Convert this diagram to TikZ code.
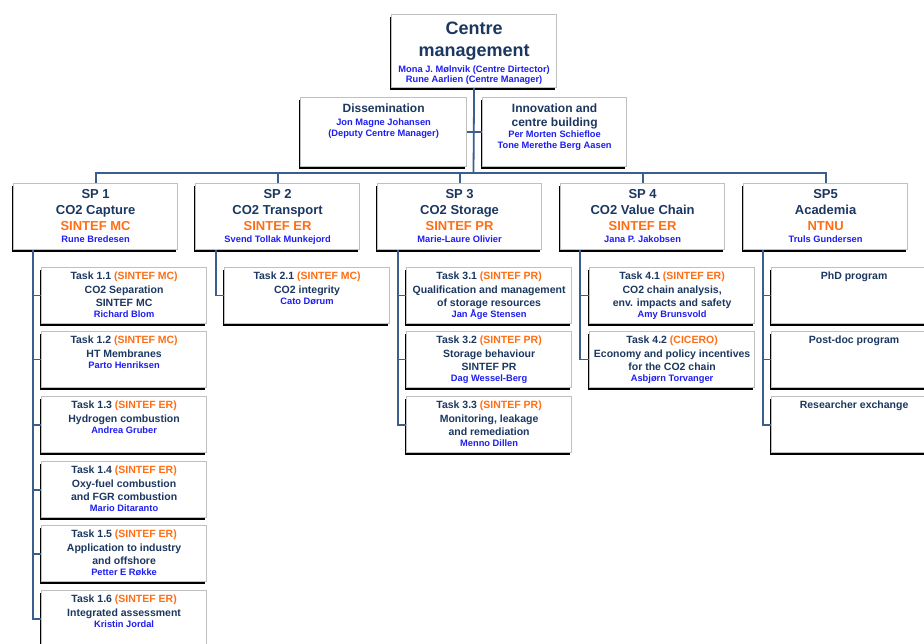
\documentclass[tikz,border=0pt]{standalone}
\usepackage{fontspec}
\setmainfont{Liberation Sans}
\usetikzlibrary{shadows}
\definecolor{navy}{RGB}{28,56,96}
\definecolor{linkblue}{RGB}{58,95,140}
\definecolor{boxgray}{RGB}{192,192,192}
\definecolor{orgorange}{RGB}{255,110,20}
\definecolor{nameblue}{RGB}{30,30,240}
\newcommand{\org}[1]{\textcolor{orgorange}{#1}}
\newcommand{\who}[1]{{\fontsize{9.3}{11}\selectfont\textcolor{nameblue}{#1}}}
\begin{document}
\begin{tikzpicture}[x=1pt,y=-1pt,
    box/.style={draw=boxgray,line width=1.2pt,fill=white,text=navy,
      general shadow={fill=black,shadow xshift=-2pt,shadow yshift=-2pt},
      anchor=north west,inner xsep=2pt,inner ysep=0pt,align=flush center},
    head/.style={box,text width=161pt,text height=20pt,text depth=53pt,
      font=\bfseries\fontsize{18}{22}\selectfont},
    staff/.style={box,text height=15pt,text depth=54pt,
      font=\bfseries\fontsize{12}{14}\selectfont},
    spbox/.style={box,text width=160pt,text height=15pt,text depth=51pt,
      font=\bfseries\fontsize{13}{15.5}\selectfont},
    task/.style={box,text width=161pt,text height=12pt,text depth=44pt,
      font=\bfseries\fontsize{10.5}{13.5}\selectfont},
    link/.style={draw=linkblue,line width=1.8pt}]
  \useasboundingbox (0,0) rectangle (924,644);
  \clip (0,0) rectangle (924,644);

  % Centre management
  \node[head] (cm) at (391,14) {Centre\\management\\[-6pt]\who{Mona J. Mølnvik (Centre Dirtector)}\\[-12pt]\who{Rune Aarlien (Centre Manager)}};
  \node[staff,text width=162pt] (dis) at (300,97) {Dissemination\\[-1pt]\who{Jon Magne Johansen}\\[-3pt]\who{(Deputy Centre Manager)}};
  \node[staff,text width=140pt] (inn) at (482,97) {Innovation and\\centre building\\[-3pt]\who{Per Morten Schiefloe}\\[-3pt]\who{Tone Merethe Berg Aasen}};

  % Sub-projects
  \node[spbox] (sp1) at (13,183) {SP 1\\CO2 Capture\\[1pt]\org{SINTEF MC}\\[-3.5pt]\who{Rune Bredesen}};
  \node[spbox] (sp2) at (195,183) {SP 2\\CO2 Transport\\[1pt]\org{SINTEF ER}\\[-3.5pt]\who{Svend Tollak Munkejord}};
  \node[spbox] (sp3) at (377,183) {SP 3\\CO2 Storage\\[1pt]\org{SINTEF PR}\\[-3.5pt]\who{Marie-Laure Olivier}};
  \node[spbox] (sp4) at (560,183) {SP 4\\CO2 Value Chain\\[1pt]\org{SINTEF ER}\\[-3.5pt]\who{Jana P. Jakobsen}};
  \node[spbox] (sp5) at (743,183) {SP5\\Academia\\[1pt]\org{NTNU}\\[-3.5pt]\who{Truls Gundersen}};

  % Tasks SP 1
  \node[task] (t11) at (41,267) {Task 1.1 \org{(SINTEF MC)}\\CO2 Separation\\SINTEF MC\\[-2.5pt]\who{Richard Blom}};
  \node[task] (t12) at (41,331) {Task 1.2 \org{(SINTEF MC)}\\HT Membranes\\[-2.5pt]\who{Parto Henriksen}};
  \node[task] (t13) at (41,396) {Task 1.3 \org{(SINTEF ER)}\\Hydrogen combustion\\[-2.5pt]\who{Andrea Gruber}};
  \node[task] (t14) at (41,461) {Task 1.4 \org{(SINTEF ER)}\\Oxy-fuel combustion\\and FGR combustion\\[-2.5pt]\who{Mario Ditaranto}};
  \node[task] (t15) at (41,525) {Task 1.5 \org{(SINTEF ER)}\\Application to industry\\and offshore\\[-2.5pt]\who{Petter E Røkke}};
  \node[task] (t16) at (41,590) {Task 1.6 \org{(SINTEF ER)}\\Integrated assessment\\[-2.5pt]\who{Kristin Jordal}};

  % Tasks SP 2 and SP 3
  \node[task] (t21) at (224,267) {Task 2.1 \org{(SINTEF MC)}\\CO2 integrity\\[-2.5pt]\who{Cato Dørum}};
  \node[task] (t31) at (406,267) {Task 3.1 \org{(SINTEF PR)}\\Qualification and management\\of storage resources\\[-2.5pt]\who{Jan Åge Stensen}};
  \node[task] (t32) at (406,331) {Task 3.2 \org{(SINTEF PR)}\\Storage behaviour\\SINTEF PR\\[-2.5pt]\who{Dag Wessel-Berg}};
  \node[task] (t33) at (406,396) {Task 3.3 \org{(SINTEF PR)}\\Monitoring, leakage\\and remediation\\[-2.5pt]\who{Menno Dillen}};

  % Tasks SP 4 and SP 5
  \node[task] (t41) at (589,267) {Task 4.1 \org{(SINTEF ER)}\\CO2 chain analysis,\\env. impacts and safety\\[-2.5pt]\who{Amy Brunsvold}};
  \node[task] (t42) at (589,331) {Task 4.2 \org{(CICERO)}\\Economy and policy incentives\\for the CO2 chain\\[-2.5pt]\who{Asbjørn Torvanger}};
  \node[task] (t51) at (771,267) {PhD program};
  \node[task] (t52) at (771,331) {Post-doc program};
  \node[task] (t53) at (771,396) {Researcher exchange};

  % Connectors
  \coordinate (bar) at (473.5,173);
  \draw[link] (cm.south) -- (bar);
  \draw[link] (dis.east) -- (inn.west);
  \foreach \s in {sp1,sp2,sp3,sp4,sp5}
    \draw[link] (bar) -| (\s.north);
  \foreach \k in {t11,t12,t13,t14,t15,t16}
    \draw[link] ([xshift=20pt]sp1.south west) |- (\k.west);
  \draw[link] ([xshift=21pt]sp2.south west) |- (t21.west);
  \foreach \k in {t31,t32,t33}
    \draw[link] ([xshift=21pt]sp3.south west) |- (\k.west);
  \foreach \k in {t41,t42}
    \draw[link] ([xshift=20pt]sp4.south west) |- (\k.west);
  \foreach \k in {t51,t52,t53}
    \draw[link] ([xshift=20pt]sp5.south west) |- (\k.west);
\end{tikzpicture}
\end{document}
